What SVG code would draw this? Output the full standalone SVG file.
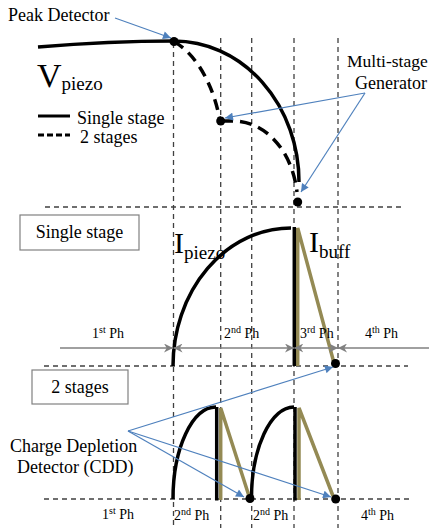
<svg xmlns="http://www.w3.org/2000/svg" width="429" height="528" viewBox="0 0 429 528" font-family="'Liberation Serif', 'Times New Roman', 'DejaVu Serif', serif">
<style>
text{font-family:'Liberation Serif','Times New Roman','DejaVu Serif',serif;fill:#000}
.lbl{font-size:18px}
.ph{font-size:14px}
.grid{stroke:#404040;stroke-width:1.3;stroke-dasharray:5,4;fill:none}
.wave{stroke:#000;stroke-width:3.5;fill:none}
.buff{stroke:#948A54;stroke-width:3.5;fill:none}
.blue{stroke:#4F81BD;stroke-width:1.2;fill:none;marker-end:url(#ab)}
.gray{stroke:#808080;stroke-width:1.3;fill:none}
.box{fill:#fff;stroke:#808080;stroke-width:1.2}
</style>
<defs>
<marker id="ab" viewBox="0 0 10 10" refX="10" refY="5" markerWidth="10" markerHeight="8" markerUnits="userSpaceOnUse" orient="auto"><path d="M0,0 L10,5 L0,10 z" fill="#4F81BD"/></marker>
<marker id="ge" viewBox="0 0 10 10" refX="10" refY="5" markerWidth="9" markerHeight="9" markerUnits="userSpaceOnUse" orient="auto"><path d="M0,0 L10,5 L0,10 L3,5 z" fill="#808080"/></marker>
<marker id="gs" viewBox="0 0 10 10" refX="10" refY="5" markerWidth="9" markerHeight="9" markerUnits="userSpaceOnUse" orient="auto-start-reverse"><path d="M0,0 L10,5 L0,10 L3,5 z" fill="#808080"/></marker>
</defs>

<g id="grid">
<path class="grid" d="M173.5,43 V528 M220.7,38 V528 M251.7,38 V528 M294,38 V528 M338,38 V528"/>
<path class="grid" d="M45,207 H402 M44,366 H408 M44,499 H413"/>
</g>

<g id="vpiezo-curves">
<path class="wave" d="M38,47 Q110,41 174,41 A125,141 0 0 1 299,182"/>
<path class="wave" stroke-dasharray="11,7" d="M174,42 C188,48 212,75 220,121"/>
<path class="wave" stroke-dasharray="12,7" d="M221,121 L233,121 C265,121 292,150 297,192"/>
<circle cx="174" cy="41.5" r="4.5"/>
<circle cx="220.7" cy="121" r="4.5"/>
<circle cx="297.7" cy="202" r="4.5"/>
</g>

<g id="single-stage-wave">
<path class="wave" d="M173,366 A118,138 0 0 1 291,228"/>
<path class="buff" d="M297.7,366 V228 L334,363"/>
<path class="wave" d="M294.3,366 V227"/>
<circle cx="335.5" cy="363.5" r="4.5"/>
</g>

<g id="two-stage-wave">
<path class="wave" d="M173,499 A43,92 0 0 1 216,407"/>
<path class="buff" d="M220.7,500 V408 L249,496"/>
<path class="wave" d="M216.7,500.5 V407"/>
<path class="wave" d="M251.5,498 A43,91 0 0 1 294,407"/>
<path class="buff" d="M299,500 V408 L333,496"/>
<path class="wave" d="M295,500.5 V407"/>
<circle cx="250" cy="498.5" r="4.5"/>
<circle cx="335.7" cy="499" r="4.5"/>
</g>

<g id="connectors">
<path class="blue" d="M115,18 L171,38"/>
<path class="blue" d="M365,93 L225,118"/>
<path class="blue" d="M365,93 L301,192"/>
<path class="blue" d="M128,431 L333,367"/>
<path class="blue" d="M128,431 L331,497"/>
<path class="blue" d="M128,431 L244,497"/>
<path class="gray" marker-end="url(#ge)" d="M60,348 H173"/>
<path class="gray" marker-start="url(#gs)" marker-end="url(#ge)" d="M173.5,348 H294"/>
<path class="gray" marker-start="url(#gs)" marker-end="url(#ge)" d="M294.3,348 H338"/>
<path class="gray" marker-start="url(#gs)" d="M338,348 H429"/>
</g>

<g id="legend">
<path d="M38,116 H70" stroke="#000" stroke-width="3"/>
<path d="M38,135 H70" stroke="#000" stroke-width="3" stroke-dasharray="6,3"/>
<text class="lbl" x="77" y="124" font-size="17">Single  stage</text>
<text class="lbl" x="80" y="143" font-size="17">2 stages</text>
</g>

<g id="labels">
<text class="lbl" x="8" y="21">Peak Detector</text>
<text class="lbl" x="347" y="67" style="font-size:17.5px">Multi-stage</text>
<text class="lbl" x="355" y="89">Generator</text>
<text x="37" y="87" font-size="34">V<tspan font-size="19" dy="3">piezo</tspan></text>
<text x="174" y="253" font-size="30">I<tspan font-size="19" dy="6">piezo</tspan></text>
<text x="309" y="252" font-size="30">I<tspan font-size="19" dy="6">buff</tspan></text>
<text class="lbl" x="10" y="452">Charge Depletion</text>
<text class="lbl" x="17" y="473">Detector (CDD)</text>
</g>

<g id="box-single">
<rect class="box" x="20" y="215" width="119" height="35"/>
<text class="lbl" x="79.5" y="238" text-anchor="middle">Single  stage</text>
</g>
<g id="box-two">
<rect class="box" x="32" y="370" width="96" height="34"/>
<text class="lbl" x="80" y="393" text-anchor="middle">2 stages</text>
</g>

<g id="phases">
<text class="ph" x="92" y="338">1<tspan font-size="10" dy="-5">st</tspan><tspan dy="5"> Ph</tspan></text>
<text class="ph" x="224" y="338">2<tspan font-size="10" dy="-5">nd</tspan><tspan dy="5"> Ph</tspan></text>
<text class="ph" x="300" y="338">3<tspan font-size="10" dy="-5">rd</tspan><tspan dy="5"> Ph</tspan></text>
<text class="ph" x="365" y="338">4<tspan font-size="10" dy="-5">th</tspan><tspan dy="5"> Ph</tspan></text>
<text class="ph" x="102" y="519">1<tspan font-size="10" dy="-5">st</tspan><tspan dy="5"> Ph</tspan></text>
<text class="ph" x="174" y="520">2<tspan font-size="10" dy="-5">nd</tspan><tspan dy="5"> Ph</tspan></text>
<text class="ph" x="253" y="520">2<tspan font-size="10" dy="-5">nd</tspan><tspan dy="5"> Ph</tspan></text>
<text class="ph" x="361" y="520">4<tspan font-size="10" dy="-5">th</tspan><tspan dy="5"> Ph</tspan></text>
</g>
</svg>
